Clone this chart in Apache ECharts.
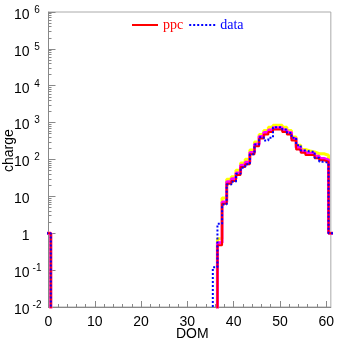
<!DOCTYPE html>
<html>
<head>
<meta charset="utf-8">
<script src="https://cdn.jsdelivr.net/npm/echarts@6/dist/echarts.min.js"></script>
<style>
  html, body { margin: 0; padding: 0; background: #fff; }
  #chart { width: 337px; height: 344px; }
</style>
</head>
<body>
<div id="chart"></div>
<script>
// DOM bins that hold charge; every other bin is empty.
const domBins = [0, 36, 37, 38, 39, 40, 41, 42, 43, 44, 45, 46, 47, 48, 49, 50, 51, 52, 53, 54, 55, 56, 57, 58, 59, 60, 61];
// simulated charge (ppc) per DOM
const ppc     = [1, 0, 0.47, 6.3, 22, 26, 38, 63, 74, 138, 230, 372, 476, 560, 650, 650, 560, 476, 330, 188, 152, 132, 132, 108, 95, 87, 1];
// measured charge per DOM
const data    = [1, 0.12, 1.8, 6, 21, 25, 41, 60, 74, 138, 257, 400, 330, 390, 750, 750, 650, 525, 388, 245, 176, 163, 163, 112, 87, 81, 1];
// ppc variations drawn underneath
const ppcUpper = [1, 0, 0.71, 9, 29, 34, 51, 80, 101, 180, 300, 476, 615, 750, 850, 850, 750, 615, 410, 245, 188, 170, 160, 143, 143, 130, 1];
const ppcMid   = [1, 0, 0.55, 7, 25, 30, 43, 70, 84, 155, 260, 420, 540, 630, 730, 730, 630, 540, 370, 212, 170, 148, 148, 122, 107, 98, 1];

const xTicks = [0, 10, 20, 30, 40, 50, 60];

const EMPTY = 1e-4; // below the axis floor, so empty bins fall to the frame

// Histogram outline: each bin k covers [k-0.5, k+0.5]
function histPath(values) {
  const lookup = {};
  domBins.forEach((d, i) => { lookup[d] = values[i]; });
  const pts = [];
  for (let k = 0; k <= 61; k++) {
    const v = lookup[k] > 0 ? lookup[k] : EMPTY;
    pts.push([k - 0.5, v]);
    pts.push([k + 0.5, v]);
  }
  return pts;
}

function histSeries(name, values, color, width, type, z) {
  return {
    name: name,
    type: 'line',
    data: histPath(values),
    symbol: 'none',
    clip: true,
    z: z,
    lineStyle: { color: color, width: width, type: type },
    itemStyle: { color: color },
    animation: false
  };
}

const chart = echarts.init(document.getElementById('chart'), null, { renderer: 'canvas' });

chart.setOption({
  animation: false,
  backgroundColor: '#fff',
  grid: {
    left: 48.5, right: 5, top: 10, bottom: 37,
    show: true, borderColor: '#aaa', borderWidth: 1
  },
  legend: {
    left: 126, top: 13,
    itemWidth: 26, itemHeight: 10, itemGap: 5,
    itemStyle: { opacity: 0 },
    textStyle: { fontFamily: 'Liberation Serif', fontSize: 14 },
    data: [
      { name: 'ppc', textStyle: { color: '#ff0000' } },
      { name: 'data', textStyle: { color: '#0000ff' } }
    ]
  },
  xAxis: {
    type: 'value',
    min: 0, max: 61, interval: 10,
    axisLine: { lineStyle: { color: '#888', width: 1 } },
    axisTick: { inside: true, length: 6, lineStyle: { color: '#888' },
      customValues: xTicks },
    minorTick: { show: true, splitNumber: 5, length: 3, lineStyle: { color: '#888' } },
    splitLine: { show: false },
    axisLabel: {
      margin: 8, color: '#000', fontFamily: 'Liberation Sans', fontSize: 14,
      customValues: xTicks
    }
  },
  yAxis: {
    type: 'log',
    logBase: 10,
    min: 1e-2, max: 1e6,
    axisLine: { show: true, lineStyle: { color: '#888', width: 1 } },
    axisTick: { show: true, inside: true, length: 7, lineStyle: { color: '#888' } },
    minorTick: { show: true, splitNumber: 9, length: 3, lineStyle: { color: '#888' } },
    splitLine: { show: false },
    axisLabel: {
      margin: 6,
      color: '#000',
      formatter: function (v) {
        const e = Math.round(Math.log10(v));
        if (e === 0) return '{b|1}{e| }';
        if (e === 1) return '{b|10}{e| }';
        return '{b|10}{e|' + e + '}';
      },
      rich: {
        b: { fontFamily: 'Liberation Sans', fontSize: 14, color: '#000',
             lineHeight: 20, verticalAlign: 'bottom', padding: [8, 0, 0, 0] },
        e: { fontFamily: 'Liberation Sans', fontSize: 10, color: '#000',
             width: 11, align: 'left', lineHeight: 12, verticalAlign: 'top', padding: [3, 0, 0, 2] }
      }
    }
  },
  graphic: [
    {
      type: 'text', left: 176, top: 327,
      style: { text: 'DOM', fontFamily: 'Liberation Sans', fontSize: 14, fill: '#000' }
    },
    {
      type: 'text', x: 2, y: 172, rotation: Math.PI / 2,
      style: { text: 'charge', fontFamily: 'Liberation Sans', fontSize: 14, fill: '#000' }
    }
  ],
  series: [
    histSeries('upper', ppcUpper, '#ffff00', 3, 'solid', 1),
    histSeries('mid', ppcMid, '#ff00ff', 3, 'solid', 2),
    histSeries('ppc', ppc, '#ff0000', 2, 'solid', 3),
    histSeries('data', data, '#0000ff', 2, [2, 2], 4)
  ]
});
</script>
</body>
</html>
